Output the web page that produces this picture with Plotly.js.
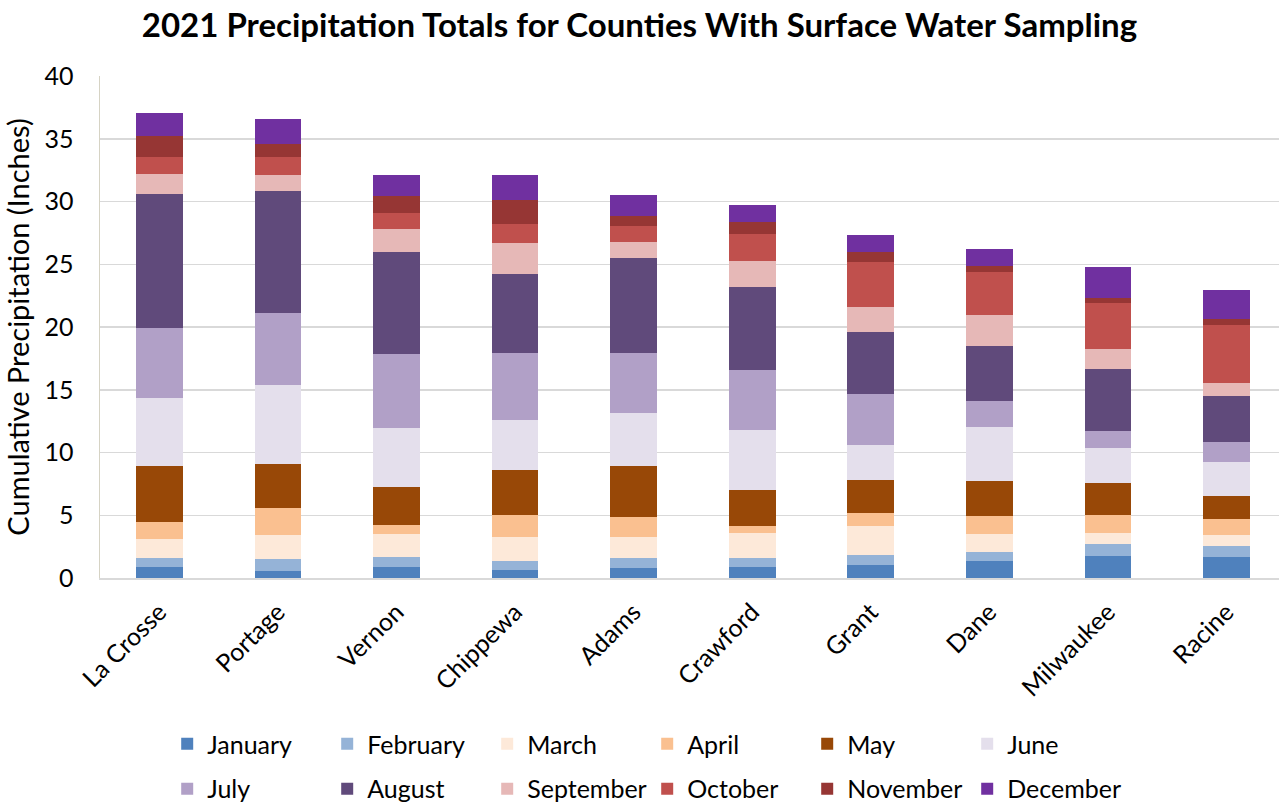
<!DOCTYPE html>
<html><head><meta charset="utf-8">
<script src="https://cdn.plot.ly/plotly-3.0.1.min.js"></script>
<style>html,body{margin:0;padding:0;background:#fff;overflow:hidden;width:1279px;height:803px}#chart{width:1279px;height:830px}</style>
</head><body><div id="chart"></div>
<script>
const counties = ["La Crosse","Portage","Vernon","Chippewa","Adams","Crawford","Grant","Dane","Milwaukee","Racine"];
const months = ["January","February","March","April","May","June","July","August","September","October","November","December"];
const January   = [0.85,0.56,0.85,0.64,0.80,0.85,1.06,1.38,1.78,1.70];
const February  = [0.77,0.98,0.82,0.69,0.82,0.77,0.77,0.72,0.90,0.87];
const March     = [1.49,1.89,1.84,1.94,1.65,1.97,2.29,1.41,0.88,0.83];
const April     = [1.32,2.12,0.69,1.75,1.59,0.58,1.06,1.43,1.46,1.28];
const May       = [4.49,3.51,3.03,3.59,4.04,2.84,2.60,2.81,2.53,1.85];
const June      = [5.45,6.29,4.70,3.95,4.25,4.78,2.79,4.26,2.78,2.74];
const July      = [5.53,5.77,5.92,5.37,4.78,4.78,4.09,2.12,1.36,1.59];
const August    = [10.70,9.72,8.13,6.29,7.59,6.62,4.94,4.33,4.96,3.67];
const September = [1.62,1.30,1.83,2.45,1.23,2.04,1.97,2.52,1.57,1.03];
const October   = [1.35,1.43,1.27,1.51,1.30,2.18,3.61,3.43,3.72,4.57];
const November  = [1.68,1.01,1.38,1.97,0.82,0.98,0.80,0.45,0.37,0.51];
const December  = [1.78,1.97,1.68,1.94,1.67,1.33,1.38,1.36,2.45,2.31];
const series = [January,February,March,April,May,June,July,August,September,October,November,December];
const colors = ["#4F81BD","#95B3D7","#FDE9D9","#FAC090","#984807","#E4DFEC","#B1A0C7","#604A7B","#E6B8B7","#C0504D","#963634","#7030A0"];

const FONT = "Lato, 'Open Sans', sans-serif";
const traces = series.map((vals, i) => ({
  type: "bar", name: months[i], x: counties, y: vals,
  marker: {color: colors[i], line: {width: 0}},
  legend: i < 6 ? "legend" : "legend2",
  hoverinfo: "x+y+name"
}));

const legendBase = {
  orientation: "h", xref: "paper", yref: "paper", xanchor: "left", yanchor: "middle",
  x: 0.057, font: {family: FONT, size: 25, color: "#000"},
  entrywidth: 115, entrywidthmode: "pixels", traceorder: "normal",
  bgcolor: "rgba(0,0,0,0)", itemclick: false
};

const layout = {
  width: 1279, height: 830,
  margin: {l: 100, r: 0, t: 76, b: 252},
  paper_bgcolor: "#fff", plot_bgcolor: "#fff",
  barmode: "stack", bargap: 0.606,
  title: {text: "<b>2021 Precipitation Totals for Counties With Surface Water Sampling</b>",
          font: {family: FONT, size: 33, color: "#000"}, x: 0.5, xanchor: "center",
          y: 1 - 25/830, yanchor: "middle"},
  xaxis: {type: "category", range: [-0.5, 9.443], tickangle: -45, automargin: false,
          tickfont: {family: FONT, size: 25, color: "#000"}, ticklabelstandoff: 8,
          showgrid: false, showline: true, linecolor: "#D9D9D9", linewidth: 1.5, ticks: ""},
  yaxis: {range: [0, 40], dtick: 5, tick0: 0, automargin: false,
          tickfont: {family: FONT, size: 25, color: "#000"},
          showgrid: true, gridcolor: "#D9D9D9", gridwidth: 1.5,
          showline: true, linecolor: "#D6D3C4", linewidth: 1.5, ticks: "",
          zeroline: false, ticklabelstandoff: 20,
          title: {text: "Cumulative Precipitation (Inches)", font: {family: FONT, size: 29, color: "#000"}, standoff: 8}},
  legend: Object.assign({}, legendBase, {y: -0.3307}),
  legend2: Object.assign({}, legendBase, {y: -0.4203}),
  showlegend: true
};

Plotly.newPlot("chart", traces, layout, {displayModeBar: false, staticPlot: true});
</script></body></html>
